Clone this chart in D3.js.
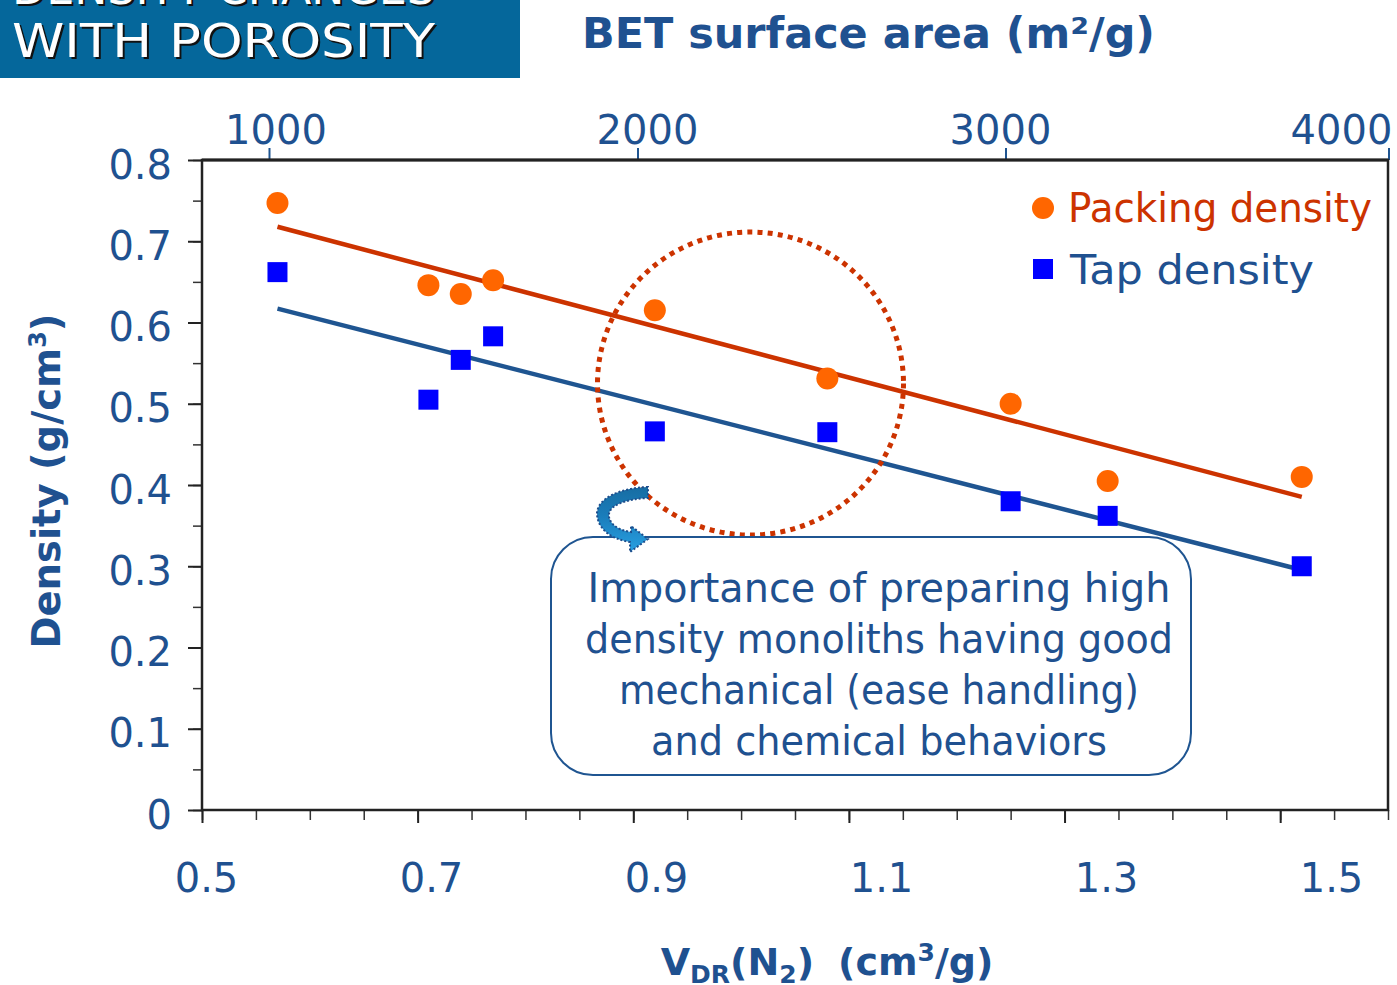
<!DOCTYPE html>
<html><head><meta charset="utf-8">
<script src="https://cdn.jsdelivr.net/npm/d3@7"></script>
<style>
html,body{margin:0;padding:0;background:#fff;overflow:hidden}
text{font-family:"DejaVu Sans",Verdana,sans-serif}
</style>
</head><body>
<svg id="chart" width="1397" height="985"></svg>
<script>
// ---------- data ----------
const vdr            = [0.57, 0.71, 0.74, 0.77, 0.92, 1.08, 1.25, 1.34, 1.52];
const packingDensity = [0.747, 0.646, 0.635, 0.652, 0.615, 0.531, 0.500, 0.405, 0.410];
const tapDensity     = [0.662, 0.505, 0.554, 0.583, 0.466, 0.465, 0.380, 0.362, 0.300];
const seriesNames    = ["Packing density", "Tap density"];
const yTickValues    = [0, 0.1, 0.2, 0.3, 0.4, 0.5, 0.6, 0.7, 0.8];
const xTickLabels    = [0.5, 0.7, 0.9, 1.1, 1.3, 1.5];
const betTickValues  = [1000, 2000, 3000, 4000];
const noteLines      = ["Importance of preparing high", "density monoliths having good",
                        "mechanical (ease handling)", "and chemical behaviors"];
const titleLines     = ["DENSITY CHANGES", "WITH POROSITY"];
const topAxisTitle   = "BET surface area (m\u00B2/g)";

// ---------- colours ----------
const BLUE_TXT = "#1f5190", ORANGE_M = "#ff6600", ORANGE_L = "#cc3300",
      BLUE_M = "#0000ff", BLUE_L = "#1f5591";

const svg = d3.select("#chart");
const L = 202, R = 1388, T = 160, B = 810;

const x = d3.scaleLinear().domain([0.5, 1.6]).range([L, R]);
const y = d3.scaleLinear().domain([0, 0.8]).range([B, T]);
const xLabelPos = d3.scaleLinear().domain([0.5, 1.5]).range([206, 1331]);
const bet = d3.scaleLinear().domain(betTickValues).range([269, 637.5, 1005.5, 1388.5]);
const betLabelPos = d3.scaleLinear().domain(betTickValues).range([275.5, 647, 1000, 1341]);

// ---------- defs ----------
const defs = svg.append("defs");
const grad = defs.append("linearGradient").attr("id","arrowGrad")
  .attr("x1",0).attr("y1",0).attr("x2",0).attr("y2",1);
grad.append("stop").attr("offset","0%").attr("stop-color","#176da3");
grad.append("stop").attr("offset","45%").attr("stop-color","#1a7dbb");
grad.append("stop").attr("offset","100%").attr("stop-color","#28a0e2");

// ---------- title box ----------
svg.append("rect").attr("x",0).attr("y",0).attr("width",520).attr("height",78).attr("fill","#05679b");
const titleY = [4, 57];
titleLines.forEach((t,i)=>{
  svg.append("text").attr("x",14).attr("y",titleY[i]+2).attr("font-size",46)
    .attr("textLength",423).attr("lengthAdjust","spacingAndGlyphs")
    .attr("fill","#111").text(t);
  svg.append("text").attr("x",12).attr("y",titleY[i]).attr("font-size",46)
    .attr("textLength",423).attr("lengthAdjust","spacingAndGlyphs")
    .attr("fill","#fff").text(t);
});

// ---------- top axis title ----------
svg.append("text").attr("x",582).attr("y",48).attr("font-size",42).attr("font-weight","bold")
  .attr("textLength",573).attr("lengthAdjust","spacingAndGlyphs")
  .attr("fill",BLUE_TXT).text(topAxisTitle);

// ---------- axes ----------
function styleAxis(g, col, w){
  g.select(".domain").remove();
  g.selectAll("line").attr("stroke",col).attr("stroke-width",w);
  g.selectAll("text").attr("fill",BLUE_TXT).attr("font-size",40).attr("font-family","'DejaVu Sans',Verdana,sans-serif");
}
// y minor + major
const yMinor = svg.append("g").attr("transform",`translate(${L},0)`)
  .call(d3.axisLeft(y).tickValues(d3.range(0,17).map(i=>i*0.05)).tickSize(9).tickFormat(""));
styleAxis(yMinor,"#333",1.5);
const yMajor = svg.append("g").attr("transform",`translate(${L},0)`)
  .call(d3.axisLeft(y).tickValues(yTickValues).tickSize(14).tickPadding(16).tickFormat(d=>d===0?"0":d3.format(".1f")(d)));
styleAxis(yMajor,"#222",2);
yMajor.selectAll("text").attr("dy","0.45em");

// x minor + major ticks
const xMinor = svg.append("g").attr("transform",`translate(0,${B})`)
  .call(d3.axisBottom(x).tickValues(d3.range(0,23).map(i=>0.5+i*0.05)).tickSize(10).tickFormat(""));
styleAxis(xMinor,"#333",1.5);
const xMajor = svg.append("g").attr("transform",`translate(0,${B})`)
  .call(d3.axisBottom(x).tickValues(xTickLabels).tickSize(13).tickFormat(""));
styleAxis(xMajor,"#222",2);
// x labels
const xLab = svg.append("g").attr("transform",`translate(0,${B})`)
  .call(d3.axisBottom(xLabelPos).tickValues(xTickLabels).tickSize(0).tickPadding(54).tickFormat(d3.format(".1f")));
styleAxis(xLab,"none",0);

// top BET axis
const topTicks = svg.append("g").attr("transform",`translate(0,${T})`)
  .call(d3.axisTop(bet).tickValues(betTickValues).tickSize(12).tickFormat(""));
styleAxis(topTicks,BLUE_L,2);
const topLab = svg.append("g").attr("transform",`translate(0,${T})`)
  .call(d3.axisTop(betLabelPos).tickValues(betTickValues).tickSize(0).tickPadding(16).tickFormat(d3.format("d")));
styleAxis(topLab,"none",0);

// frame
svg.append("rect").attr("x",L).attr("y",T).attr("width",R-L).attr("height",B-T)
  .attr("fill","none").attr("stroke","#222").attr("stroke-width",2.5);
svg.append("line").attr("x1",L).attr("x2",R).attr("y1",T).attr("y2",T).attr("stroke","#222").attr("stroke-width",3);

// ---------- trend lines (least squares) ----------
function fit(xs, ys){
  const mx=d3.mean(xs), my=d3.mean(ys);
  const sxy=d3.sum(xs,(v,i)=>(v-mx)*(ys[i]-my)), sxx=d3.sum(xs,v=>(v-mx)*(v-mx));
  const b=sxy/sxx, a=my-b*mx;
  const x0=d3.min(xs), x1=d3.max(xs);
  return [[x0,a+b*x0],[x1,a+b*x1]];
}
const line = d3.line().x(d=>x(d[0])).y(d=>y(d[1]));
svg.append("path").attr("d",line(fit(vdr,packingDensity))).attr("stroke",ORANGE_L).attr("stroke-width",4.5).attr("fill","none");
svg.append("path").attr("d",line(fit(vdr,tapDensity))).attr("stroke",BLUE_L).attr("stroke-width",4.5).attr("fill","none");

// ---------- markers ----------
svg.append("g").selectAll("circle").data(vdr).join("circle")
  .attr("cx",d=>x(d)).attr("cy",(d,i)=>y(packingDensity[i])).attr("r",11).attr("fill",ORANGE_M);
svg.append("g").selectAll("rect").data(vdr).join("rect")
  .attr("x",d=>x(d)-10).attr("y",(d,i)=>y(tapDensity[i])-10).attr("width",20).attr("height",20).attr("fill",BLUE_M);

// ---------- legend ----------
svg.append("circle").attr("cx",1043).attr("cy",208).attr("r",11).attr("fill",ORANGE_M);
svg.append("text").attr("x",1068).attr("y",222).attr("font-size",40).attr("fill",ORANGE_L)
  .attr("textLength",304).attr("lengthAdjust","spacingAndGlyphs").text(seriesNames[0]);
svg.append("rect").attr("x",1033).attr("y",259).attr("width",20).attr("height",20).attr("fill",BLUE_M);
svg.append("text").attr("x",1070).attr("y",284).attr("font-size",40).attr("fill",BLUE_TXT)
  .attr("textLength",244).attr("lengthAdjust","spacingAndGlyphs").text(seriesNames[1]);

// ---------- dotted ellipse ----------
svg.append("ellipse").attr("cx",750.5).attr("cy",383.5).attr("rx",153).attr("ry",151.5)
  .attr("fill","none").attr("stroke",ORANGE_L).attr("stroke-width",5).attr("stroke-dasharray","5 5.2");

// ---------- annotation box ----------
svg.append("rect").attr("x",551).attr("y",537).attr("width",640).attr("height",238).attr("rx",42).attr("ry",42)
  .attr("fill","#fff").attr("stroke",BLUE_L).attr("stroke-width",2);
const noteY=[602,653,704,755], noteW=[583,588,520,456];
noteLines.forEach((t,i)=>{
  svg.append("text").attr("x",879).attr("y",noteY[i]).attr("text-anchor","middle").attr("font-size",40)
    .attr("fill",BLUE_TXT).attr("textLength",noteW[i]).attr("lengthAdjust","spacingAndGlyphs").text(t);
});

// ---------- curved arrow ----------
svg.append("path")
  .attr("d","M648,487 C620,488 598,498 597,513 C597,528 610,539 630,542 L630,552 L648,539 L631,526 L631,532 C616,530 608,522 609,514 C610,505 626,499 648,498 Z")
  .attr("fill","url(#arrowGrad)").attr("stroke","#1f4e8c").attr("stroke-width",2).attr("stroke-dasharray","2 2");

// ---------- axis titles ----------
const yl = svg.append("text").attr("transform","translate(60,481) rotate(-90)").attr("text-anchor","middle")
  .attr("font-size",38.5).attr("font-weight","bold").attr("fill",BLUE_TXT);
yl.append("tspan").text("Density (g/cm");
yl.append("tspan").attr("font-size",24).attr("dy",-14).text("3");
yl.append("tspan").attr("dy",14).text(")");

const xl = svg.append("text").attr("x",827).attr("y",975).attr("text-anchor","middle")
  .attr("font-size",38).attr("font-weight","bold").attr("fill",BLUE_TXT);
xl.append("tspan").text("V");
xl.append("tspan").attr("font-size",25).attr("dy",8).text("DR");
xl.append("tspan").attr("dy",-8).text("(N");
xl.append("tspan").attr("font-size",25).attr("dy",8).text("2");
xl.append("tspan").attr("dy",-8).text(")");
xl.append("tspan").attr("dx",24).text("(cm");
xl.append("tspan").attr("font-size",25).attr("dy",-14).text("3");
xl.append("tspan").attr("dy",14).text("/g)");
</script>
</body></html>
